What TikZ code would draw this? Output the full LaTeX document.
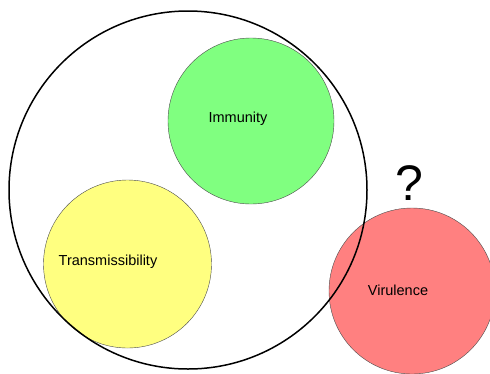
\documentclass[tikz,border=0pt]{standalone}
\usepackage{fontspec}
\setmainfont{Liberation Sans}
\usepackage{xcolor}
\usepackage{tikz}
\usetikzlibrary{positioning}
\definecolor{immgreen}{RGB}{128,255,128}
\definecolor{transyellow}{RGB}{255,255,128}
\definecolor{virred}{RGB}{255,128,128}

\begin{document}
\begin{tikzpicture}[
  x=1pt, y=-1pt,
  blob/.style={circle, draw=black!70, line width=0.4pt, minimum size=166pt, inner sep=0pt},
  outer/.style={circle, draw=black, line width=1.5pt, minimum size=358pt, inner sep=0pt},
  lbl/.style={font=\fontsize{14.5}{17}\selectfont, inner sep=0pt}
]
  \useasboundingbox (0,0) rectangle (490,373);

  \node[blob, fill=immgreen] (imm) at (251,121) {};
  \node[blob, fill=transyellow, minimum size=168pt] (trans) at (127.5,264) {};
  \node[blob, fill=virred] (vir) at (412,291) {};
  \node[outer] (host) at (188,190) {};

  \node[lbl] (immtxt) at (238,119) {Immunity};
  \node[lbl] (transtxt) at (108,262) {Transmissibility};
  \node[lbl] (virtxt) at (398,290) {Virulence};
  \node[font=\fontsize{50}{56}\selectfont, inner sep=0pt] (ask) at (409,183) {?};
\end{tikzpicture}
\end{document}
